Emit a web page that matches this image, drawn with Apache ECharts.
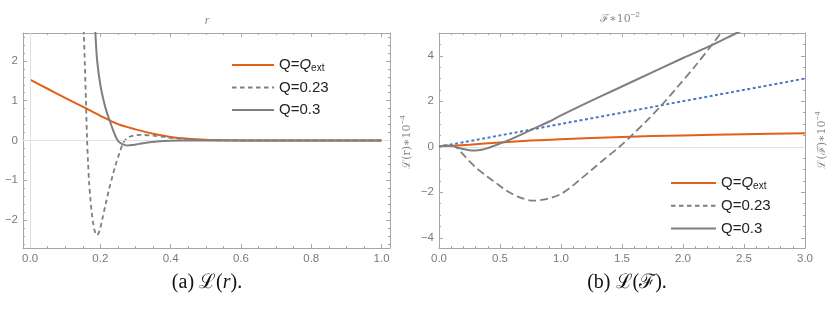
<!DOCTYPE html>
<html><head><meta charset="utf-8">
<script src="https://cdn.jsdelivr.net/npm/echarts@6/dist/echarts.min.js"></script>
<style>html,body{margin:0;padding:0;background:#fff}#c{width:831px;height:313px}</style>
</head><body><div id="c"></div>
<script>
// ---------- Panel (a): L(r) ----------
const aQext = [[0,1.53],[0.05,1.30],[0.1,1.07],[0.15,0.85],[0.2,0.62],[0.25,0.41],[0.3,0.28],[0.35,0.17],[0.4,0.09],[0.45,0.045],[0.5,0.02],[0.55,0.008],[0.6,0.003],[0.7,0],[1,0]];
const aQ023 = [[0.1515,3.2],[0.153,2.7],[0.156,1.9],[0.159,1.0],[0.162,0.1],[0.165,-0.55],[0.168,-1.05],[0.172,-1.5],[0.176,-1.85],[0.18,-2.1],[0.185,-2.3],[0.19,-2.38],[0.195,-2.33],[0.2,-2.2],[0.205,-2.0],[0.215,-1.6],[0.225,-1.22],[0.235,-0.88],[0.245,-0.57],[0.255,-0.3],[0.265,-0.06],[0.275,0.05],[0.285,0.1],[0.3,0.13],[0.32,0.14],[0.35,0.12],[0.38,0.09],[0.42,0.05],[0.46,0.025],[0.5,0.01],[0.6,0],[1,0]];
const aQ03 = [[0.1845,3.2],[0.186,2.7],[0.191,2.0],[0.2,1.4],[0.21,0.98],[0.218,0.72],[0.227,0.49],[0.237,0.24],[0.248,0.02],[0.258,-0.07],[0.268,-0.11],[0.279,-0.125],[0.29,-0.115],[0.31,-0.085],[0.34,-0.045],[0.38,-0.015],[0.43,-0.003],[0.5,0],[1,0]];
const aXTicks = [0,0.2,0.4,0.6,0.8,1.0];
const aYTicks = [-2,-1,0,1,2];

// ---------- Panel (b): L(F) ----------
const bQext = [[0,0],[0.25,0.09],[0.5,0.19],[0.75,0.27],[1,0.33],[1.5,0.43],[2,0.5],[2.5,0.55],[3,0.59]];
const bRef = [[0,0],[3,3]];
const bQ023 = [[0,0],[0.05,0.05],[0.1,0.05],[0.15,-0.06],[0.2,-0.35],[0.3,-0.9],[0.4,-1.33],[0.47,-1.6],[0.55,-1.92],[0.65,-2.2],[0.77,-2.37],[0.88,-2.3],[0.99,-2.1],[1.07,-1.82],[1.154,-1.45],[1.25,-1.02],[1.35,-0.57],[1.48,0],[1.58,0.5],[1.7,1.13],[1.82,1.8],[1.95,2.6],[2.1,3.55],[2.26,4.64],[2.33,5.15]];
const bQ03 = [[0,0],[0.05,0.05],[0.1,0.04],[0.15,-0.03],[0.2,-0.1],[0.25,-0.15],[0.3,-0.16],[0.35,-0.13],[0.4,-0.06],[0.43,0],[0.48,0.1],[0.525,0.19],[0.6,0.36],[0.7,0.6],[0.77,0.78],[0.9,1.1],[1.0,1.38],[1.32,2.2],[1.6,2.9],[2.0,3.9],[2.25,4.5],[2.44,5.0],[2.5,5.15]];
const bXTicks = [0,0.5,1.0,1.5,2.0,2.5,3.0];
const bYTicks = [-4,-2,0,2,4];

const legendNames = ['Qext','Q=0.23','Q=0.3'];

function steps(a, b, d) { const out = []; const n = Math.round((b - a) / d); for (let i = 0; i <= n; i++) out.push(+(a + i * d).toFixed(4)); return out; }
const aXMinor = steps(0, 1, 0.05), aYMinor = steps(-2.6, 2.6, 0.2);
const bXMinor = steps(0, 3, 0.1), bYMinor = steps(-4, 5, 0.5);

const ORANGE = '#e3601b', GRAY = '#7f7f7f', BLUE = '#4f7ac0', FRAME = '#a6a6a6', LBL = '#7a7a7a';
const fmt1 = v => v.toFixed(1);
const fmt0 = v => String(v).replace('-', '\u2212');

function axesFor(dim, g, min, max, majors, minors, fmt) {
  const sides = dim === 'x' ? ['bottom','top'] : ['left','right'];
  const out = [];
  sides.forEach((pos, si) => {
    out.push({type:'value', gridIndex:g, position:pos, min, max,
      axisLine:{show:true, onZero:false, lineStyle:{color:FRAME, width:1}},
      axisTick:{show:true, inside:true, length:4, customValues:majors, lineStyle:{color:FRAME}},
      axisLabel:{show:si===0, customValues:majors, formatter:fmt, color:LBL, fontSize:11.5, fontFamily:'Liberation Sans', margin:5},
      splitLine:{show:false}, axisPointer:{show:false}});
    out.push({type:'value', gridIndex:g, position:pos, min, max,
      axisLine:{show:false, onZero:false},
      axisTick:{show:true, inside:true, length:2, customValues:minors, lineStyle:{color:FRAME}},
      axisLabel:{show:false}, splitLine:{show:false}, axisPointer:{show:false}});
  });
  return out;
}

const xAxes = [].concat(axesFor('x',0,-0.02,1.024,aXTicks,aXMinor,fmt1), axesFor('x',1,0,3,bXTicks,bXMinor,fmt1));
const yAxes = [].concat(axesFor('y',0,-2.7,2.7,aYTicks,aYMinor,fmt0), axesFor('y',1,-4.45,5,bYTicks,bYMinor,fmt0));

function line(name, data, xi, color, type, width, z) {
  return {type:'line', name, data, xAxisIndex:xi, yAxisIndex:xi, showSymbol:false, symbol:'none',
    smooth:0.3, z, silent:true, animation:false,
    lineStyle:{color, width, type, cap:'butt'}, itemStyle:{color}};
}
function refLines(xi, withX) {
  const d = [{yAxis:0}]; if (withX) d.push({xAxis:0});
  return {type:'line', name:'_ref'+xi, data:[], xAxisIndex:xi, yAxisIndex:xi, z:1, silent:true, animation:false,
    markLine:{silent:true, symbol:'none', label:{show:false}, animation:false,
      lineStyle:{color:'#e2e2e2', width:1, type:'solid'}, emphasis:{disabled:true}, data:d}};
}

const series = [
  refLines(0, true),
  line('Qext', aQext, 0, ORANGE, 'solid', 2, 3),
  line('Q=0.23', aQ023, 0, GRAY, [4.5,3.5], 1.8, 4),
  line('Q=0.3', aQ03, 0, GRAY, 'solid', 2, 5),
  refLines(4, false),
  line('ref', bRef, 4, BLUE, [3,2.5], 2, 3),
  line('Qext', bQext, 4, ORANGE, 'solid', 2, 4),
  line('Q=0.23', bQ023, 4, GRAY, [8,4], 1.8, 5),
  line('Q=0.3', bQ03, 4, GRAY, 'solid', 2, 6)
];

const legRich = {
  q:{fontStyle:'italic', fontSize:15, fontFamily:'Liberation Sans', color:'#222', lineHeight:16},
  e:{fontSize:10, fontFamily:'Liberation Sans', color:'#222', verticalAlign:'bottom', lineHeight:12}
};
function legend(left, top, w, gap) {
  return {data:legendNames, orient:'vertical', left, top, padding:0, itemWidth:w, itemHeight:16, itemGap:gap,
    selectedMode:false,
    itemStyle:{color:'transparent', borderColor:'transparent', borderWidth:0, opacity:0},
    textStyle:{fontSize:15, lineHeight:16, fontFamily:'Liberation Sans', color:'#222', rich:legRich},
    formatter: n => n === 'Qext' ? 'Q={q|Q}{e|ext}' : n};
}

const supRich = {
  a:{fontSize:11, fontFamily:'DejaVu Serif', fill:'#888', lineHeight:14, verticalAlign:'bottom'},
  s:{fontSize:8, fontFamily:'Liberation Sans', fill:'#888', lineHeight:14, verticalAlign:'top'}
};
const capRich = {
  n:{fontSize:20, fontFamily:'Liberation Serif, DejaVu Serif', fill:'#111'},
  i:{fontSize:20, fontFamily:'Liberation Serif', fontStyle:'italic', fill:'#111'}
};

const graphic = [
  {type:'text', x:207, y:21, style:{text:'r', font:'italic 12px Liberation Serif', fill:'#888', align:'center', verticalAlign:'middle'}},
  {type:'text', x:620, y:18, style:{text:'{a|\u2131\u221710}{s|\u22122}', rich:supRich, align:'center', verticalAlign:'middle'}},
  {type:'text', x:406, y:142, rotation:Math.PI/2, style:{text:'{a|\u2112(r)\u221710}{s|\u22124}', rich:supRich, align:'center', verticalAlign:'middle'}},
  {type:'text', x:821, y:140, rotation:Math.PI/2, style:{text:'{a|\u2112(\u2131)\u221710}{s|\u22124}', rich:supRich, align:'center', verticalAlign:'middle'}},
  {type:'text', x:207, y:283, style:{text:'{n|(a) \u2112(}{i|r}{n|).}', rich:capRich, align:'center', verticalAlign:'middle'}},
  {type:'text', x:627, y:283, style:{text:'{n|(b) \u2112(\u2131).}', rich:capRich, align:'center', verticalAlign:'middle'}}
];

const chart = echarts.init(document.getElementById('c'), null, {renderer:'canvas'});
chart.setOption({
  animation:false,
  backgroundColor:'#fff',
  grid:[{left:23, top:33, width:367, height:215}, {left:439, top:33, width:366, height:215}],
  xAxis:xAxes, yAxis:yAxes,
  legend:[legend(231, 57, 42, 6.5), legend(670, 175, 45, 6.8)],
  series, graphic
});
</script></body></html>
